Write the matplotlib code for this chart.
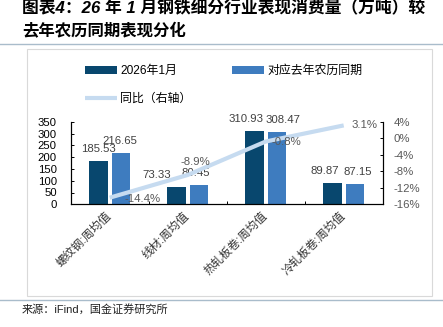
import numpy as np
import matplotlib
matplotlib.use('Agg')
import matplotlib.pyplot as plt
from matplotlib.lines import Line2D
from matplotlib.patches import Rectangle
from matplotlib.transforms import ScaledTranslation

plt.rcParams['font.family'] = ['Liberation Sans', 'Noto Sans CJK SC', 'DejaVu Sans']

categories = ['螺纹钢:周均值', '线材:周均值', '热轧板卷:周均值', '冷轧板卷:周均值']
jan_2026 = [185.53, 73.33, 310.93, 89.87]
last_year = [216.65, 80.45, 308.47, 87.15]
yoy = [-14.4, -8.9, -0.8, 3.1]

DARK = '#08476E'
LIGHT = '#3E7CBF'
LINE = '#C6DBF0'

fig = plt.figure(figsize=(4.43, 3.27), dpi=100)

# title, separators and frame (figure pixels, origin top-left)
W, H = 443, 327
def fy(y):
    return 1 - y / H

fig.text(22 / W, fy(8), '图表4：26 年 1 月钢铁细分行业表现消费量（万吨）较',
         fontsize=12.1, fontweight='bold', style='italic', ha='left', va='center')
fig.text(22 / W, fy(31), '去年农历同期表现分化',
         fontsize=11.8, fontweight='bold', style='italic', ha='left', va='center')
fig.add_artist(Line2D([0, 1], [fy(44), fy(44)], color='#A9BCCB', lw=1.0))
fig.add_artist(Line2D([0, 1], [fy(300), fy(300)], color='#A9BCCB', lw=1.0))
fig.add_artist(Rectangle((27 / W, fy(296)), (432 - 27) / W, (296 - 49) / H,
                         fill=False, edgecolor='#D9D9D9', lw=0.8))
fig.text(22 / W, fy(309), '来源：iFind，国金证券研究所', fontsize=8,
         ha='left', va='center', color='#222222')

ax = fig.add_axes([70.7 / W, 1 - 204.3 / H, (382.7 - 70.7) / W, (204.3 - 121.7) / H])
ax2 = ax.twinx()

x = np.arange(len(categories))
w = 0.24
off = 0.145
ax.bar(x - off, jan_2026, w, color=DARK, label='2026年1月')
ax.bar(x + off, last_year, w, color=LIGHT, label='对应去年农历同期')
ax2.plot(x, yoy, color=LINE, lw=3.0, solid_capstyle='butt', label='同比（右轴）')

ax.set_xlim(-0.5, 3.5)
ax.set_ylim(0, 350)
ax.set_yticks(np.arange(0, 351, 50))
ax2.set_ylim(-16, 4)
ax2.set_yticks(np.arange(-16, 5, 4))
ax2.set_yticklabels([f'{v}%' for v in range(-16, 5, 4)])

# value labels (pixel offsets from the top of each bar / each point)
dark_dx = [0, -20, -8, -8]
light_dx = [-1, -3, 6, 3]
for i in range(len(categories)):
    ax.annotate(f'{jan_2026[i]:.2f}', (x[i] - off, jan_2026[i]), xytext=(dark_dx[i], 12),
                textcoords='offset pixels', ha='center', va='center', fontsize=8.2, color='#404040')
    ax.annotate(f'{last_year[i]:.2f}', (x[i] + off, last_year[i]), xytext=(light_dx[i], 12),
                textcoords='offset pixels', ha='center', va='center', fontsize=8.2, color='#404040')

line_dx = [33, 8, 21, 21]
line_dy = [-1, 13, 0, 0]
for i, v in enumerate(yoy):
    ax2.annotate(f'{v}%', (x[i], v), xytext=(line_dx[i], line_dy[i]),
                 textcoords='offset pixels', ha='center', va='center', fontsize=8.2, color='#595959')

ax.set_xticks(x)
ax.set_xticklabels(categories, rotation=45, ha='right', va='center', rotation_mode='anchor',
                   fontsize=8.3, color='#333333')
shift = ScaledTranslation(5 / 100, -2 / 100, fig.dpi_scale_trans)
for lbl in ax.get_xticklabels():
    lbl.set_transform(lbl.get_transform() + shift)
ax.set_xticks([0.5, 1.5, 2.5], minor=True)
ax.tick_params(axis='x', which='major', length=0, pad=7)
ax.tick_params(axis='x', which='minor', direction='in', length=2.5, width=0.7)
ax.tick_params(axis='y', direction='in', length=2.4, width=0.7, labelsize=8.2, pad=10)
ax2.tick_params(axis='y', direction='in', length=2.4, width=0.7, labelsize=8.2, pad=8,
                labelcolor='#595959')

for a in (ax, ax2):
    a.spines['top'].set_visible(False)
    for s in ('left', 'right', 'bottom'):
        a.spines[s].set_linewidth(0.8)
        a.spines[s].set_color('black')
    a.patch.set_visible(False)

h1, l1 = ax.get_legend_handles_labels()
h2, l2 = ax2.get_legend_handles_labels()
fig.legend([h1[0], h2[0], h1[1]], [l1[0], l2[0], l1[1]], ncol=2,
           loc='upper left', bbox_to_anchor=(85 / W, fy(65)), frameon=False,
           fontsize=8.6, handlelength=2.7, handleheight=0.65, handletextpad=0.25,
           columnspacing=3.4, labelspacing=1.35, borderaxespad=0, borderpad=0)

fig.savefig('out.png', dpi=100)
